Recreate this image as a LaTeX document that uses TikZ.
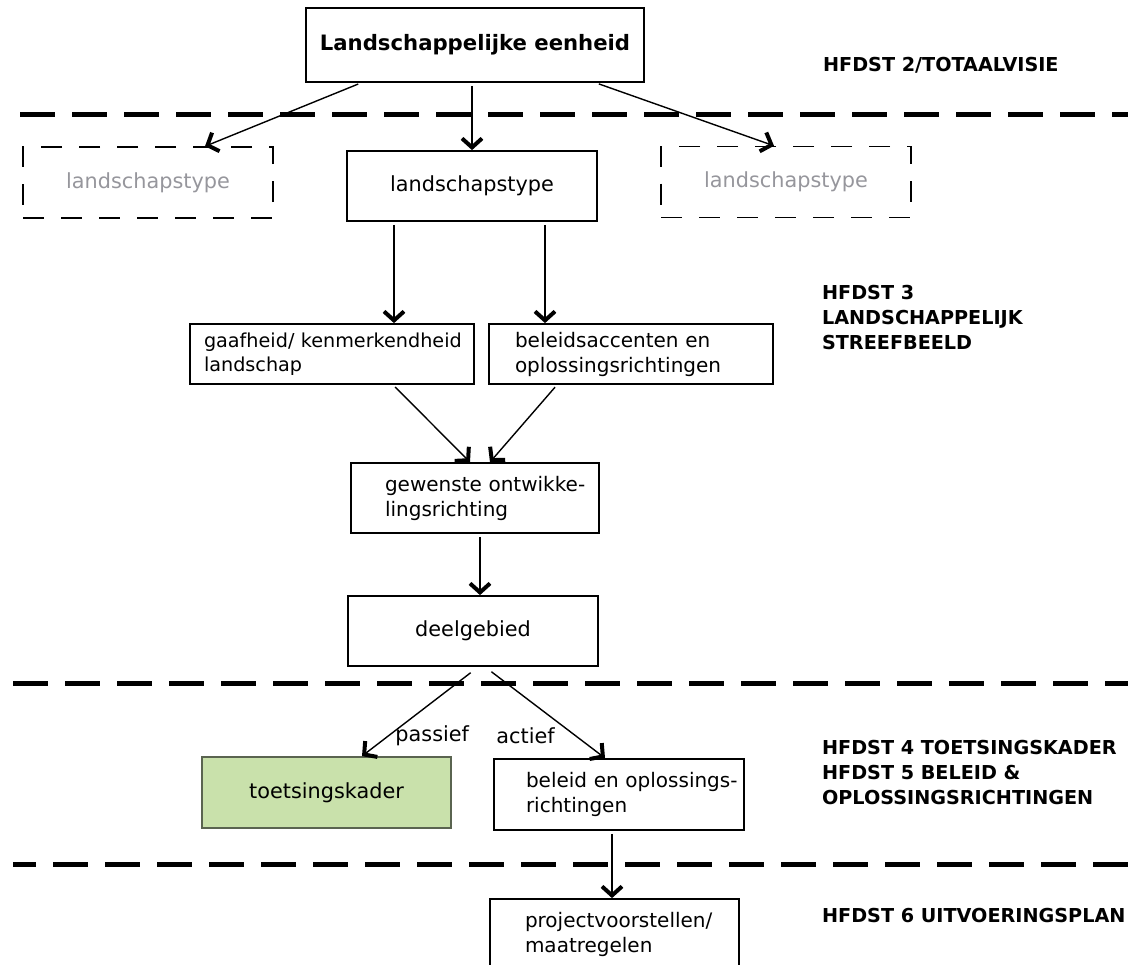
\documentclass[tikz,border=0pt]{standalone}
\usepackage{fontspec}
\setmainfont{DejaVu Sans}
\usetikzlibrary{arrows.meta,positioning,calc}
\definecolor{kadergreen}{RGB}{201,225,171}
\definecolor{kaderedge}{RGB}{90,100,80}
\definecolor{typegray}{RGB}{150,150,156}
\tikzset{
    box/.style={
        rectangle,
        draw=black,
        line width=0.9pt,
        font=\fontsize{10.4}{12.5}\selectfont,
        align=center
    },
    lbox/.style={
        box,
        align=left,
        inner xsep=0pt,
        text width=#1,
        font=\fontsize{10}{12.5}\selectfont
    },
    ghost-box/.style={
        rectangle,
        draw=black,
        line width=0.7pt,
        dash pattern=on 10.5pt off 8.5pt,
        text=typegray,
        font=\fontsize{10.4}{12.5}\selectfont,
        minimum width=125pt,
        minimum height=35.5pt
    },
    chapter/.style={
        anchor=west,
        align=left,
        font=\fontsize{9.6}{12.5}\selectfont\bfseries
    },
    divider/.style={
        line width=2.5pt,
        dash pattern=on 17.5pt off 8.5pt
    },
    flow/.style={
        -{Straight Barb[length=4.5pt,width=10pt,line width=2pt]},
        line width=0.7pt,
        shorten <=1.5pt
    },
    edge-label/.style={
        font=\fontsize{10.4}{12}\selectfont
    }
}
\begin{document}
\begin{tikzpicture}[x=0.5pt,y=-0.5pt]
  \useasboundingbox (0,0) rectangle (1128,964);
  \clip (0,0) rectangle (1128,964);

  % totaalvisie
  \node[box, minimum width=169pt, minimum height=37pt, font=\fontsize{10.6}{12.5}\selectfont\bfseries] (eenheid) at (475,45) {Landschappelijke eenheid};
  \node[chapter] (hfdst2) at (816,65) {HFDST 2/TOTAALVISIE};
  \draw[divider] (20,114) -- (1128,114);

  % landschapstypen
  \node[ghost-box] (typeL) at (148,182.5) {landschapstype};
  \node[box, minimum width=125pt, minimum height=35pt] (type) at (472,186) {landschapstype};
  \node[ghost-box] (typeR) at (786,182) {landschapstype};
  \draw[flow] ($(eenheid.south)+(-114,0)$) -- ($(typeL.north)+(57,0)$);
  \draw[flow] (eenheid.south -| type.north) -- (type.north);
  \draw[flow] ($(eenheid.south)+(121,0)$) -- ($(typeR.north)+(-12,0)$);

  % streefbeeld
  \node[lbox=142pt, minimum height=30pt, font=\fontsize{9.6}{12}\selectfont] (gaaf) at (332,354) {\hspace*{7pt}\mbox{gaafheid/ kenmerkendheid}\\\hspace*{7pt}landschap};
  \node[lbox=142pt, minimum height=30pt] (bel) at (631,354) {\hspace*{13pt}\mbox{beleidsaccenten en}\\\hspace*{13pt}oplossingsrichtingen};
  \node[chapter] (hfdst3) at (815,318) {HFDST 3\\LANDSCHAPPELIJK\\STREEFBEELD};
  \draw[flow] ([xshift=-39pt]type.south) -- ([xshift=-39pt]type.south |- gaaf.north);
  \draw[flow] ([xshift=36.5pt]type.south) -- ([xshift=36.5pt]type.south |- bel.north);

  \node[lbox=124pt, minimum height=35pt] (gewenst) at (475,498) {\hspace*{17pt}\mbox{gewenste ontwikke-}\\\hspace*{17pt}lingsrichting};
  \draw[flow] ($(gaaf.south)+(61,0)$) -- ($(gewenst.north)+(-5,0)$);
  \draw[flow] ($(bel.south)+(-74,0)$) -- ($(gewenst.north)+(15,0)$);

  \node[box, minimum width=125pt, minimum height=35pt] (deel) at (473,631) {deelgebied};
  \draw[flow] ([xshift=2.5pt]gewenst.south) -- ([xshift=2.5pt]gewenst.south |- deel.north);
  \draw[divider] (13,683) -- (1128,683);

  % toetsingskader en beleid
  \node[box, draw=kaderedge, fill=kadergreen, minimum width=124.5pt, minimum height=35.5pt] (kader) at (326.5,792.5) {toetsingskader};
  \node[lbox=125pt, minimum height=35.5pt] (beleid) at (619,794.5) {\hspace*{16pt}\mbox{beleid en oplossings-}\\\hspace*{16pt}richtingen};
  \draw[flow] ($(deel.south)+(0,4)$) -- node[edge-label, pos=0.765, right] (passief) {passief} ($(kader.north)+(35.5,0)$);
  \draw[flow] ($(deel.south)+(16,3)$) -- node[edge-label, pos=0.75, left=7pt] (actief) {actief} ($(beleid.north)+(-14,0)$);
  \node[chapter] (hfdst45) at (815,772.5) {HFDST 4 TOETSINGSKADER\\HFDST 5 BELEID \&\\OPLOSSINGSRICHTINGEN};
  \draw[divider, dash phase=6pt] (13,864) -- (1128,864);

  % uitvoeringsplan
  \node[lbox=124.5pt, minimum height=35pt] (project) at (614.5,934) {\hspace*{17.5pt}\mbox{projectvoorstellen/}\\\hspace*{17.5pt}maatregelen};
  \draw[flow] ([xshift=-3.5pt]beleid.south) -- ([xshift=-3.5pt]beleid.south |- project.north);
  \node[chapter] (hfdst6) at (815,915) {HFDST 6 UITVOERINGSPLAN};
\end{tikzpicture}
\end{document}
